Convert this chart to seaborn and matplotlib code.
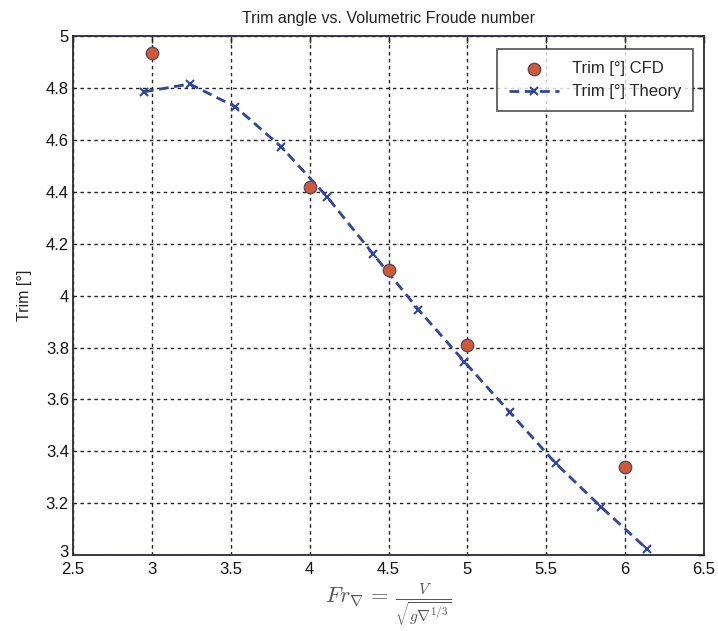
import matplotlib
matplotlib.use("Agg")
import matplotlib.pyplot as plt
import matplotlib.transforms as mtransforms
import seaborn as sns
import pandas as pd

# Data
cfd_fr = [3.0, 4.0, 4.5, 5.0, 6.0]
cfd_trim = [4.935, 4.42, 4.10, 3.81, 3.34]
theory_fr = [2.95, 3.24, 3.53, 3.82, 4.11, 4.40, 4.69, 4.98, 5.27, 5.56, 5.85, 6.14]
theory_trim = [4.785, 4.815, 4.727, 4.573, 4.381, 4.162, 3.946, 3.746, 3.550, 3.354, 3.185, 3.023]
x_ticks = [2.5, 3, 3.5, 4, 4.5, 5, 5.5, 6, 6.5]
y_ticks = [3, 3.2, 3.4, 3.6, 3.8, 4, 4.2, 4.4, 4.6, 4.8, 5]

sns.set_style("white")
plt.rcParams['font.family'] = ['Liberation Sans', 'DejaVu Sans']
plt.rcParams['mathtext.fontset'] = 'cm'

fig = plt.figure(figsize=(7.18, 6.31), dpi=100)
ax = fig.add_axes([0.1017, 0.12, 0.8788, 0.823])

df_cfd = pd.DataFrame({"Fr": cfd_fr, "Trim": cfd_trim})
df_th = pd.DataFrame({"Fr": theory_fr, "Trim": theory_trim})

sns.lineplot(data=df_th, x="Fr", y="Trim", ax=ax, color="#2f45a0", linewidth=2.0,
             linestyle=(0, (3.5, 2.0)), marker="x", markersize=6, markeredgewidth=1.5,
             markeredgecolor="#2f45a0", label="Trim [\u00b0] Theory", zorder=3)
sns.scatterplot(data=df_cfd, x="Fr", y="Trim", ax=ax, color="#cf5a35", s=80,
                edgecolor="#5a4a6a", linewidth=1.0, label="Trim [\u00b0] CFD", zorder=4)

ax.set_xlim(2.5, 6.5)
ax.set_ylim(3, 5)
ax.set_xticks(x_ticks)
ax.set_xticklabels([f"{t:g}" for t in x_ticks])
ax.set_yticks(y_ticks)
ax.set_yticklabels([f"{t:g}" for t in y_ticks])
ax.grid(True, color="#222222", linestyle=(0, (2.5, 2.5)), linewidth=1.0)
ax.tick_params(direction="in", length=5, width=1, colors="#222222", labelsize=12,
               top=True, right=True, labelcolor="#111111")
ax.tick_params(axis="x", pad=5)
ax.tick_params(axis="y", pad=3)
for s in ax.spines.values():
    s.set_color("#2a2a3a")
    s.set_linewidth(1.3)

# lift the lowest y tick label slightly, as in the reference
lab0 = ax.get_yticklabels()[0]
lab0.set_transform(lab0.get_transform() + mtransforms.ScaledTranslation(0, 4 / 100, fig.dpi_scale_trans))

ax.set_title("Trim angle vs. Volumetric Froude number", fontsize=11.5, pad=9, color="#222222")
ax.set_ylabel("Trim [\u00b0]", fontsize=11.5, color="#222222", labelpad=10)
ax.set_xlabel(r"$Fr_{\nabla}\,=\,\frac{V}{\sqrt{g\nabla^{1/3}}}$", fontsize=16, color="#555555", labelpad=3)

h, l = ax.get_legend_handles_labels()
order = [l.index("Trim [\u00b0] CFD"), l.index("Trim [\u00b0] Theory")]
leg = ax.legend([h[i] for i in order], [l[i] for i in order], loc="upper right",
                fontsize=12, frameon=True, fancybox=False, edgecolor="#222222",
                borderpad=0.7, handlelength=3.0, bbox_to_anchor=(0.996, 0.99))
leg.get_frame().set_linewidth(1.2)

fig.savefig("out.png", dpi=100)
